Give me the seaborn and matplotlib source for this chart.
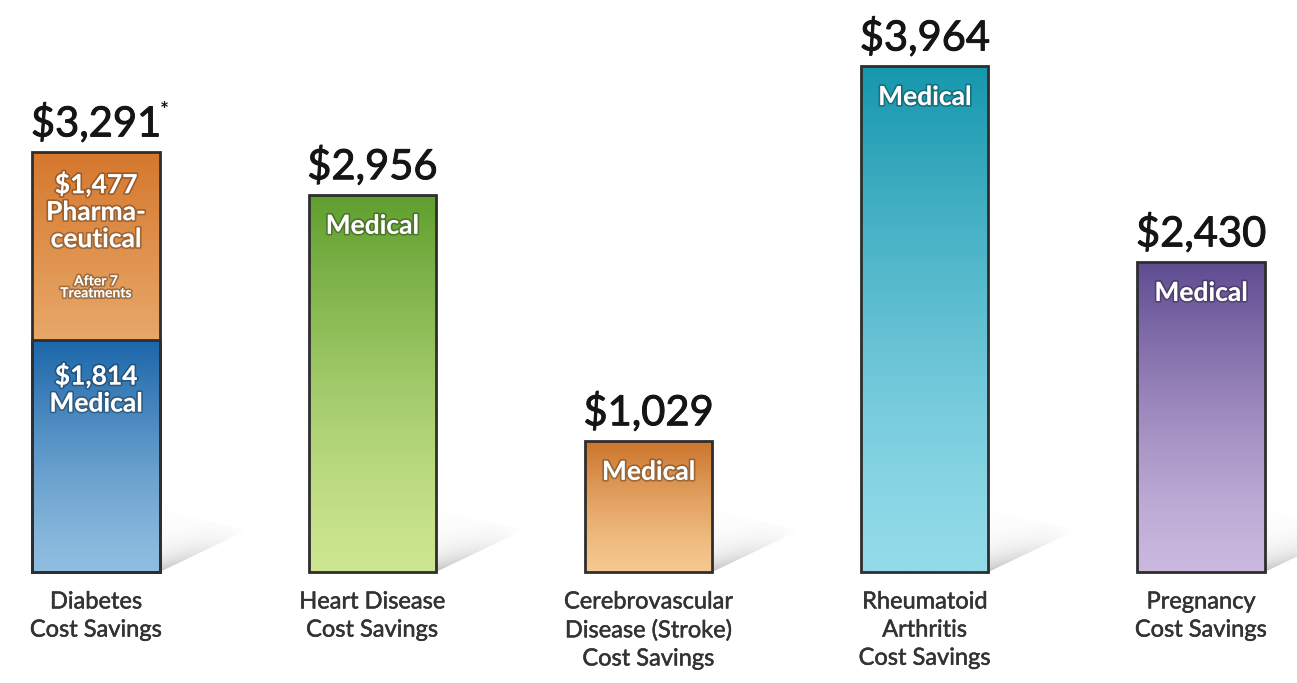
import numpy as np
import pandas as pd
import matplotlib
matplotlib.use("Agg")
import matplotlib.pyplot as plt
import seaborn as sns
from matplotlib.colors import LinearSegmentedColormap
from matplotlib.patches import Polygon
import matplotlib.patheffects as pe

# ---------------- data ----------------
categories = ["Diabetes\nCost Savings", "Heart Disease\nCost Savings",
              "Cerebrovascular\nDisease (Stroke)\nCost Savings",
              "Rheumatoid\nArthritis\nCost Savings", "Pregnancy\nCost Savings"]
total_savings = [3291, 2956, 1029, 3964, 2430]
medical_savings = [1814, 2956, 1029, 3964, 2430]
pharma_savings = [1477, 0, 0, 0, 0]
total_notes = ["*", "", "", "", ""]

# gradient colours (top, bottom)
medical_top = ["#1b66a9", "#5f9f2e", "#cc742b", "#1697ae", "#5f4b91"]
medical_bottom = ["#8fbde0", "#cde690", "#f4c88f", "#93dbea", "#cbb8df"]
pharma_top = "#d5772d"
pharma_bottom = "#f7d29c"

sns.set_theme(style="white")
plt.rcParams['font.family'] = ['Lato', 'DejaVu Sans']

fig = plt.figure(figsize=(12.97, 6.83), dpi=100)
ax = fig.add_axes([0, 0, 1, 1])

df_total = pd.DataFrame({"cat": categories, "val": total_savings})
df_med = pd.DataFrame({"cat": categories, "val": medical_savings})

EDGE = "#2e2e2e"
sns.barplot(data=df_total, x="cat", y="val", order=categories, ax=ax, width=0.46,
            color="white", edgecolor=EDGE, linewidth=2.0, errorbar=None, zorder=3)
sns.barplot(data=df_med, x="cat", y="val", order=categories, ax=ax, width=0.46,
            color="white", edgecolor=EDGE, linewidth=2.0, errorbar=None, zorder=3)

patches = list(ax.patches)
n = len(categories)
total_patches = patches[:n]
med_patches = patches[n:2 * n]


def gradient_fill(patch, top, bottom):
    x0, y0 = patch.get_x(), patch.get_y()
    w, h = patch.get_width(), patch.get_height()
    cmap = LinearSegmentedColormap.from_list("g", [bottom, top])
    grad = np.linspace(0, 1, 256).reshape(-1, 1) ** 1.3
    im = ax.imshow(grad, cmap=cmap, extent=[x0, x0 + w, y0, y0 + h], origin="lower",
                   aspect="auto", zorder=2, interpolation="bicubic")
    im.set_clip_path(patch)
    patch.set_facecolor("none")


def shadow(patch):
    x1 = patch.get_x() + patch.get_width()
    dx, dy, top = 0.32, 330.0, 480.0
    pts = [(x1, 0), (x1 + dx, dy), (x1, top)]
    poly = Polygon(pts, closed=True, transform=ax.transData, facecolor="none",
                   edgecolor="none")
    ax.add_patch(poly)
    u = np.linspace(0, 1, 200)[None, :]
    v = np.linspace(0, 1, 200)[:, None]
    yy = v * top
    d = np.clip(yy - u * dy, 0, None)
    alpha = 0.42 * (1 - u) ** 1.3 * np.exp(-d / 110.0)
    arr = np.zeros((200, 200, 4))
    arr[..., :3] = 0.45
    arr[..., 3] = alpha
    im = ax.imshow(arr, extent=[x1, x1 + dx, 0, top], origin="lower", aspect="auto",
                   zorder=1, interpolation="bilinear")
    im.set_clip_path(poly)


for i in range(n):
    if pharma_savings[i] > 0:
        gradient_fill(total_patches[i], pharma_top, pharma_bottom)
    else:
        total_patches[i].set_facecolor("none")
        total_patches[i].set_edgecolor("none")
    gradient_fill(med_patches[i], medical_top[i], medical_bottom[i])
    shadow(total_patches[i])

white_fx = [pe.withStroke(linewidth=2.5, foreground=(0, 0, 0, 0.28))]
value_fx = [pe.withStroke(linewidth=0.7, foreground="#151515")]
cat_fx = [pe.withStroke(linewidth=0.35, foreground="#333333")]

for i in range(n):
    # value label above bar
    ax.annotate(f"\\${total_savings[i]:,}", (i, total_savings[i]), xytext=(0, 6),
                textcoords="offset points", ha="center", va="bottom",
                fontsize=30, color="#151515", path_effects=value_fx)
    if total_notes[i]:
        ax.annotate(total_notes[i], (i, total_savings[i]), xytext=(49, 22),
                    textcoords="offset points", ha="center", va="bottom",
                    fontsize=15, fontweight="bold", color="#151515")
    # category label
    ax.annotate(categories[i], (i, 0), xytext=(0, -14), textcoords="offset points",
                ha="center", va="top", fontsize=17, color="#333333", linespacing=1.42,
                path_effects=cat_fx)
    # in-bar labels
    if pharma_savings[i] > 0:
        ax.annotate(f"\\${pharma_savings[i]:,}\nPharma-\nceutical",
                    (i, total_savings[i]), xytext=(0, -14), textcoords="offset points",
                    ha="center", va="top", fontsize=19, fontweight="bold",
                    color="white", linespacing=1.15, path_effects=white_fx)
        ax.annotate("After 7\nTreatments", (i, total_savings[i]), xytext=(0, -89),
                    textcoords="offset points", ha="center", va="top", fontsize=10,
                    fontweight="bold", color="white", linespacing=1.0,
                    path_effects=white_fx)
        ax.annotate(f"\\${medical_savings[i]:,}\nMedical", (i, medical_savings[i]),
                    xytext=(0, -16), textcoords="offset points", ha="center", va="top",
                    fontsize=19, fontweight="bold", color="white", linespacing=1.15,
                    path_effects=white_fx)
    else:
        ax.annotate("Medical", (i, medical_savings[i]), xytext=(0, -22.5),
                    textcoords="offset points", ha="center", va="center",
                    fontsize=19, fontweight="bold", color="white",
                    path_effects=white_fx)

# map data to pixel layout
spacing = 276.25
ax.set_xlim(-96 / spacing, 4 + (1297 - 1201) / spacing)
scale = 0.1277
ax.set_ylim(-(683 - 572) / scale, 572 / scale)
ax.set_axis_off()

fig.savefig("out.png", dpi=100)
